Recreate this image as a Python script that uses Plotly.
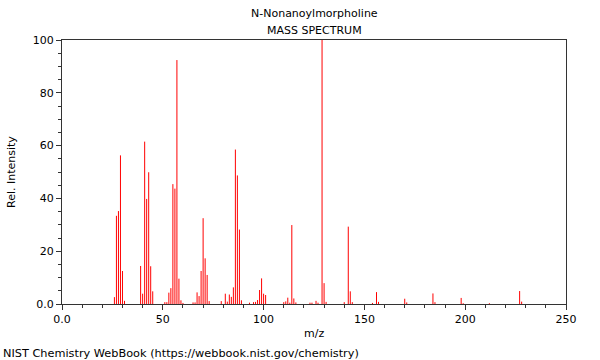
import plotly.graph_objects as go

title_line1 = "N-Nonanoylmorpholine"
title_line2 = "MASS SPECTRUM"
x_label = "m/z"
y_label = "Rel. Intensity"
footer = "NIST Chemistry WebBook (https://webbook.nist.gov/chemistry)"

mz = [26, 27, 28, 29, 30, 31,
      39, 40, 41, 42, 43, 44, 45,
      51, 52, 53, 54, 55, 56, 57, 58, 59, 60,
      65, 66, 67, 68, 69, 70, 71, 72, 73,
      79, 81, 82, 83, 84, 85, 86, 87, 88, 89,
      93, 95, 96, 97, 98, 99, 100, 101,
      110, 111, 112, 113, 114, 115, 116,
      123, 124, 126, 127, 129, 130, 131,
      140, 142, 143, 144,
      154, 156, 157,
      170, 171,
      184, 185,
      198, 199,
      212, 227, 228]
intensity = [2.6, 33.4, 35.2, 56.3, 12.5, 1.2,
             14.4, 3.9, 61.5, 39.8, 49.9, 14.3, 4.8,
             0.7, 0.7, 4.3, 6.0, 45.4, 43.7, 92.4, 9.6, 1.4, 0.4,
             0.6, 0.6, 4.4, 3.0, 12.5, 32.5, 17.3, 11.0, 1.1,
             1.1, 3.9, 0.9, 3.6, 2.7, 6.3, 58.5, 48.7, 28.2, 1.4,
             0.5, 0.7, 0.8, 1.5, 5.3, 9.7, 3.9, 3.4,
             0.7, 1.0, 2.4, 0.5, 29.9, 2.1, 0.6,
             0.5, 0.5, 1.2, 0.5, 100.0, 7.9, 0.8,
             0.7, 29.3, 4.8, 0.7,
             0.4, 4.5, 0.8,
             2.0, 0.6,
             4.0, 0.7,
             2.3, 0.3,
             0.3, 4.9, 0.9]

x_tickvals = [0, 50, 100, 150, 200, 250]
x_ticktext = ["0.0", "50", "100", "150", "200", "250"]
y_tickvals = [0, 20, 40, 60, 80, 100]
y_ticktext = ["0.0", "20", "40", "60", "80", "100"]

FONT = "DejaVu Sans, Verdana, sans-serif"
AX = "#333333"

# stick spectrum: one vertical segment per peak
seg_x, seg_y = [], []
for m, v in zip(mz, intensity):
    seg_x += [m, m, None]
    seg_y += [0, v, None]

fig = go.Figure()
fig.add_trace(go.Scatter(x=seg_x, y=seg_y, mode="lines",
                         line=dict(color="rgb(255,0,0)", width=1),
                         hoverinfo="skip"))

# plot area in pixels: x 62..566, y 40..304
W, H = 600, 360
L, R, T, B = 62, 566, 40, 304
pw, ph = R - L, B - T

def px(xp):
    return (xp - L) / pw

def py(yp):
    return (B - yp) / ph

fig.update_layout(
    width=W, height=H,
    margin=dict(l=L, r=W - R, t=T, b=H - B),
    paper_bgcolor="white", plot_bgcolor="white",
    showlegend=False,
    font=dict(family=FONT, size=11, color="#000000"),
)
fig.update_xaxes(range=[0, 250], showgrid=False, zeroline=False,
                 showline=True, linecolor=AX, linewidth=1, mirror=True,
                 ticks="outside", ticklen=5, tickcolor=AX,
                 tickvals=x_tickvals, ticktext=x_ticktext,
                 minor=dict(dtick=10, tick0=0, ticks="outside", ticklen=3, tickcolor=AX, showgrid=False),
                 tickfont=dict(size=11, family=FONT))
fig.update_yaxes(range=[0, 100], showgrid=False, zeroline=False,
                 showline=True, linecolor=AX, linewidth=1, mirror=True,
                 ticks="outside", ticklen=5, tickcolor=AX,
                 tickvals=y_tickvals, ticktext=y_ticktext,
                 minor=dict(dtick=5, tick0=0, ticks="outside", ticklen=3, tickcolor=AX, showgrid=False),
                 tickfont=dict(size=11, family=FONT))

ann = [
    dict(text=title_line1, x=0.5, y=py(13.5), xref="paper", yref="paper",
         xanchor="center", yanchor="middle", showarrow=False, font=dict(size=11)),
    dict(text=title_line2, x=0.5, y=py(30.5), xref="paper", yref="paper",
         xanchor="center", yanchor="middle", showarrow=False, font=dict(size=11)),
    dict(text=x_label, x=0.5, y=py(333), xref="paper", yref="paper",
         xanchor="center", yanchor="middle", showarrow=False, font=dict(size=11)),
    dict(text=y_label, x=px(11), y=py(172), xref="paper", yref="paper",
         xanchor="center", yanchor="middle", showarrow=False, textangle=-90, font=dict(size=11)),
    dict(text=footer, x=px(1), y=py(353), xref="paper", yref="paper",
         xanchor="left", yanchor="middle", showarrow=False, font=dict(size=11.3)),
]
fig.update_layout(annotations=ann)

fig.write_html("out.html", config={"displayModeBar": False},
               post_script="document.body.style.margin='0';document.body.style.padding='0';")
